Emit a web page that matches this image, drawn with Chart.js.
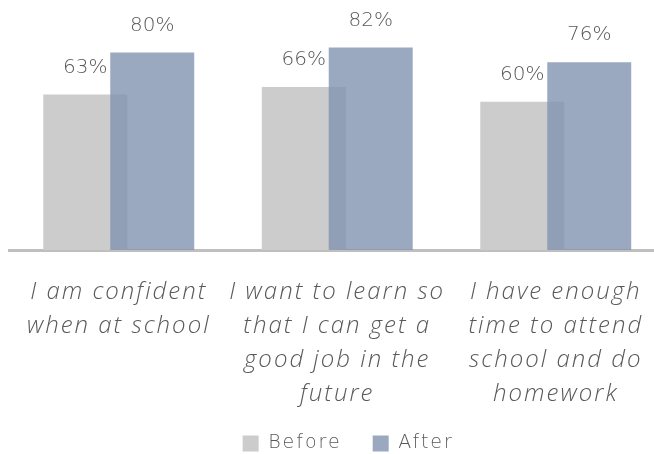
<!DOCTYPE html>
<html>
<head>
<meta charset="utf-8">
<script src="https://cdn.jsdelivr.net/npm/chart.js@4"></script>
<style>
	html, body { margin: 0; padding: 0; background: #ffffff; overflow: hidden; }
	#wrap { position: relative; width: 668px; height: 463px; }
</style>
</head>
<body>
<div id="wrap"><canvas id="survey-chart"></canvas></div>
<script>
// DATA =====================================================

const statements = [
	["I am confident", "when at school"],
	["I want to learn so", "that I can get a", "good job in the", "future"],
	["I have enough", "time to attend", "school and do", "homework"],
];
const seriesNames = ["Before", "After"];
const beforeValues = [63, 66, 60];
const afterValues = [80, 82, 76];

// STYLE ====================================================

const textColour = "#595959";
const labelFont = "'Open Sans', Lato, sans-serif";
const plainFont = "'DejaVu Sans', 'Open Sans', sans-serif";
const spacing = "2px";

// PLUGINS ==================================================

// slightly airy lettering for the axis and legend text
const spacedText = {
	id: "spacedText",
	beforeUpdate: function (chart) {
		chart.ctx.letterSpacing = spacing;
	},
	beforeDraw: function (chart) {
		chart.ctx.letterSpacing = spacing;
	},
};

// let the long statements hang below the axis box, nudge the legend right
const layoutTweaks = {
	id: "layoutTweaks",
	afterLayout: function (chart) {
		chart.scales.x.bottom = chart.height;
		chart.legend.left += 11;
		chart.legend.right += 11;
	},
};

// draw the datasets in array order so the translucent "After" bars sit on top
const drawInOrder = {
	id: "drawInOrder",
	beforeDatasetsDraw: function (chart) {
		const metas = chart.getSortedVisibleDatasetMetas();
		for (let i = 0; i < metas.length; i++) {
			metas[i].controller.draw();
		}
		return false;
	},
};

// percentage above every bar
const valueLabels = {
	id: "valueLabels",
	afterDraw: function (chart) {
		const ctx = chart.ctx;
		ctx.save();
		ctx.letterSpacing = "0px";
		ctx.fillStyle = textColour;
		ctx.font = `200 20px ${plainFont}`;
		ctx.textAlign = "center";
		ctx.textBaseline = "middle";
		chart.data.datasets.forEach(function (dataset, i) {
			const meta = chart.getDatasetMeta(i);
			meta.data.forEach(function (bar, j) {
				ctx.fillText(`${dataset.data[j]}%`, bar.x, bar.y - 27);
			});
		});
		ctx.restore();
	},
};

// CHART ====================================================

const config = {
	type: "bar",
	data: {
		labels: statements,
		datasets: [
			{
				label: seriesNames[0],
				data: beforeValues,
				backgroundColor: "#cccccc",
				categoryPercentage: 0.613,
				barPercentage: 1.254,
			},
			{
				label: seriesNames[1],
				data: afterValues,
				backgroundColor: "rgba(129, 148, 175, 0.8)",
				categoryPercentage: 0.613,
				barPercentage: 1.254,
			},
		],
	},
	options: {
		responsive: true,
		maintainAspectRatio: false,
		animation: false,
		layout: { padding: { left: 9.5, right: 3, top: 3, bottom: 0 } },
		scales: {
			x: {
				grid: { display: false, drawTicks: false },
				border: { display: true, color: "#bfbfbf", width: 3 },
				ticks: {
					color: textColour,
					padding: 25,
					maxRotation: 0,
					autoSkip: false,
					font: { family: labelFont, size: 24, style: "italic", weight: 300, lineHeight: 1.42 },
				},
				afterFit: function (scale) {
					scale.height = 153;
					scale.paddingLeft = 0;
					scale.paddingRight = 0;
				},
			},
			y: {
				display: false,
				min: 0,
				max: 100,
			},
		},
		plugins: {
			legend: {
				position: "bottom",
				labels: {
					color: textColour,
					boxWidth: 16,
					boxHeight: 16,
					padding: 31,
					font: { family: plainFont, size: 19, weight: 200 },
				},
			},
			tooltip: { enabled: false },
		},
	},
	plugins: [spacedText, layoutTweaks, drawInOrder, valueLabels],
};

new Chart(document.getElementById("survey-chart"), config);
</script>
</body>
</html>
